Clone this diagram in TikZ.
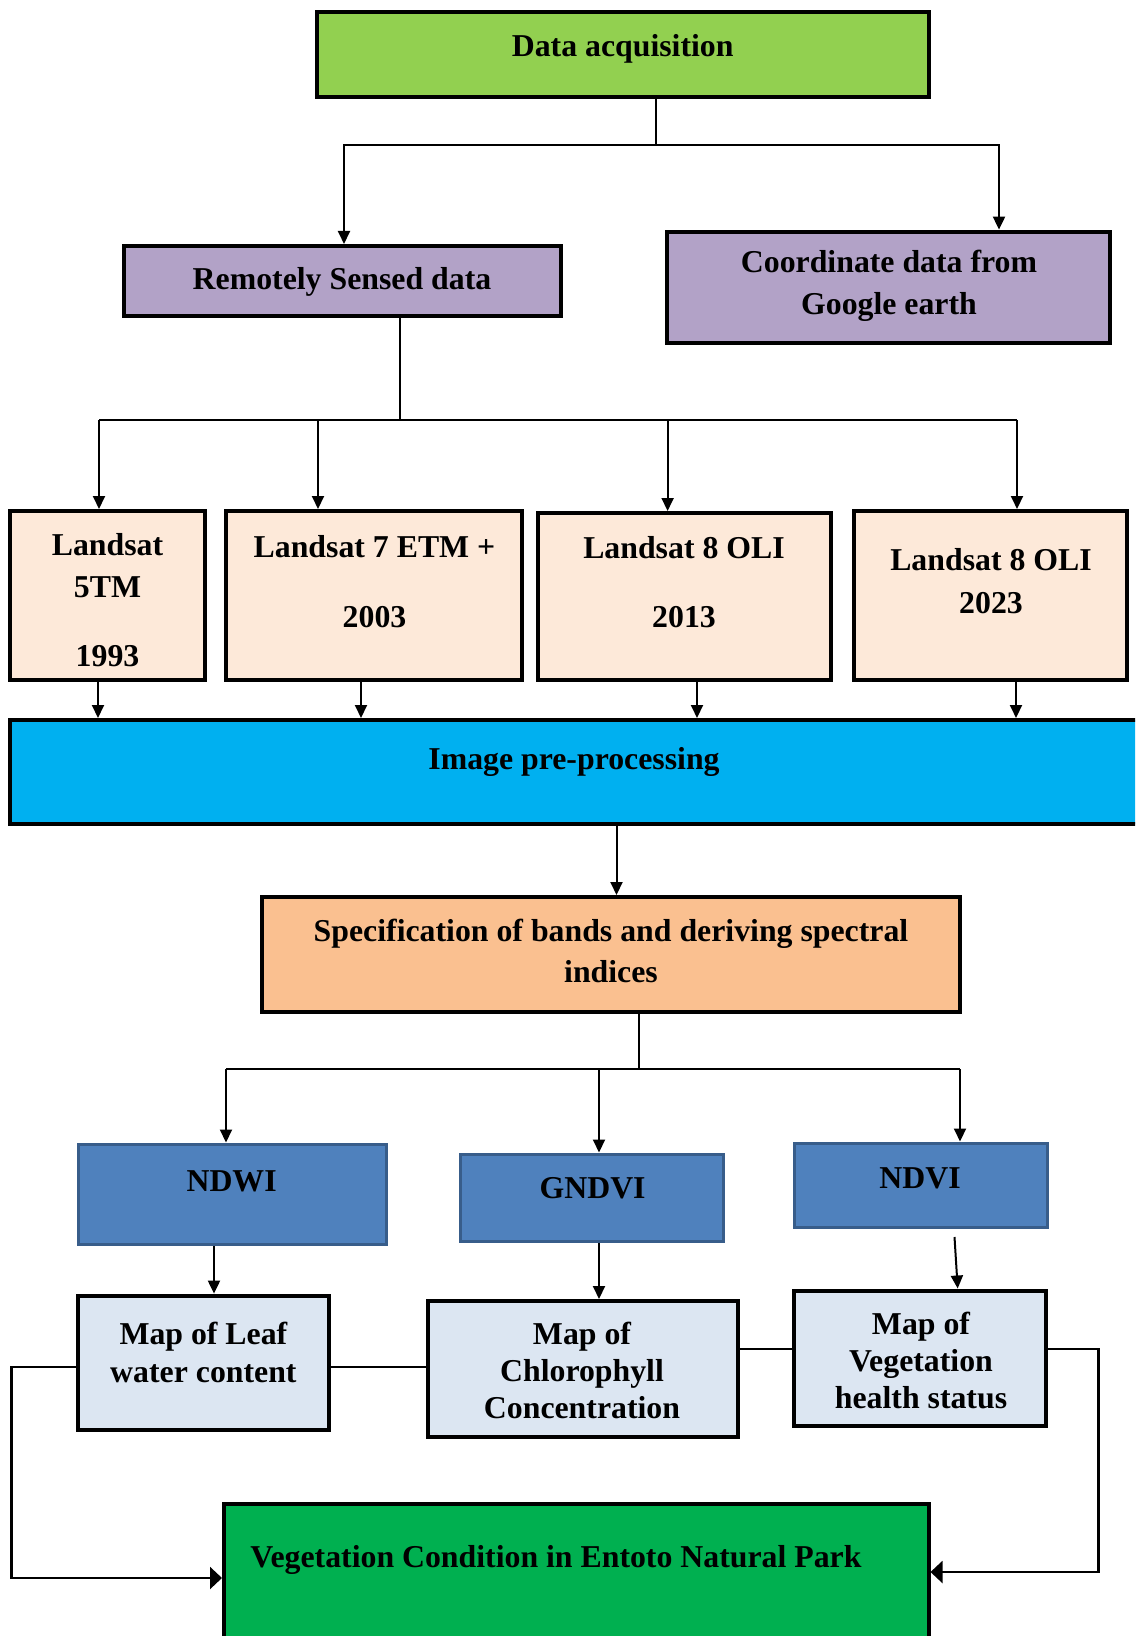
\documentclass[tikz,border=0pt]{standalone}
\usepackage{fontspec}
\setmainfont{Liberation Serif}
\usetikzlibrary{fit,arrows.meta,calc}
\definecolor{cDA}{HTML}{92D050}
\definecolor{cPur}{HTML}{B2A2C7}
\definecolor{cLand}{HTML}{FDE9D9}
\definecolor{cIP}{HTML}{00B0F0}
\definecolor{cSpec}{HTML}{FAC090}
\definecolor{cBlue}{HTML}{4F81BD}
\definecolor{cBlueB}{HTML}{385D8A}
\definecolor{cMap}{HTML}{DCE6F2}
\definecolor{cFin}{HTML}{00B050}
\newcommand\myfnt[1]{\fontsize{15.9}{#1}\selectfont\bfseries}
\begin{document}
\begin{tikzpicture}[x=0.5pt,y=-0.5pt,
  box/.style={draw=black, line width=2pt, inner sep=0pt},
  bluebox/.style={draw=cBlueB, fill=cBlue, line width=1.5pt, inner sep=0pt},
  txt/.style={font=\myfnt{20.7pt}, align=center, inner sep=0pt},
  conn/.style={line width=1pt},
  arr/.style={conn, -{Triangle[length=6.5pt,width=6pt]}},
  bigarr/.style={line width=1.1pt, -{Triangle[length=6pt,width=11pt]}}]
\clip (0,0) rectangle (1135,1636);
\fill[white] (0,0) rectangle (1135,1636);
% boxes
\node[box, fill=cDA, fit={(317,12.5) (928.5,97)}] (da) {};
\node[txt] (daT) at (622.7,49) {Data acquisition};
\node[box, fill=cPur, fit={(124,246) (561,316)}] (rs) {};
\node[txt] (rsT) at (342,281.5) {Remotely Sensed data};
\node[box, fill=cPur, fit={(667,231.6) (1110,343)}] (cd) {};
\node[txt, font=\myfnt{20.85pt}] (cdT) at (889,286) {Coordinate data from\\Google earth};
\node[box, fill=cLand, fit={(10.4,511) (204.5,680)}] (l1) {};
\node[box, fill=cLand, fit={(226,511) (521.6,680)}] (l2) {};
\node[box, fill=cLand, fit={(538,513) (831,680)}] (l3) {};
\node[box, fill=cLand, fit={(854,511) (1126.7,680)}] (l4) {};
\node[txt] (l1T) at (107.5,600) {Landsat\\5TM\\[13.8pt]1993};
\node[txt] (l2T) at (374.5,581.5) {Landsat 7 ETM +\\[14.4pt]2003};
\node[txt] (l3T) at (684,582) {Landsat 8 OLI\\[13.7pt]2013};
\node[txt, font=\myfnt{21.5pt}] (l4T) at (991,581) {Landsat 8 OLI\\2023};
\node[box, fill=cIP, fit={(10.4,720) (1150,824)}] (ip) {};
\node[txt] (ipT) at (574,762) {Image pre-processing};
\node[box, fill=cSpec, fit={(262,897) (960,1012)}] (spec) {};
\node[txt, font=\myfnt{20.75pt}] (specT) at (611,951) {Specification of bands and deriving spectral\\indices};
\node[bluebox, fit={(78,1144) (386,1244.6)}] (ndwi) {};
\node[bluebox, fit={(460,1154) (723,1241.4)}] (gndvi) {};
\node[bluebox, fit={(794,1143) (1047,1227)}] (ndvi) {};
\node[txt] (ndwiT) at (231.6,1181) {NDWI};
\node[txt] (gndviT) at (592.6,1188) {GNDVI};
\node[txt] (ndviT) at (920,1178) {NDVI};
\node[box, fill=cMap, fit={(78,1295.6) (328.6,1430)}] (leaf) {};
\node[box, fill=cMap, fit={(427.7,1301) (737.5,1436.5)}] (chl) {};
\node[box, fill=cMap, fit={(794,1290.5) (1046,1426)}] (veg) {};
\node[txt, font=\myfnt{19pt}] (leafT) at (203.4,1352) {Map of Leaf\\water content};
\node[txt, font=\myfnt{18.5pt}] (chlT) at (582,1370.5) {Map of\\Chlorophyll\\Concentration};
\node[txt, font=\myfnt{18.5pt}] (vegT) at (921,1360) {Map of\\Vegetation\\health status};
\node[box, fill=cFin, fit={(224,1504) (928.5,1650)}] (fin) {};
\node[txt] (finT) at (556,1560) {Vegetation Condition in Entoto Natural Park};
% coordinates
\coordinate (a1) at (656,145);
\coordinate (a1l) at (344,145);
\coordinate (a1r) at (999,145);
\coordinate (a2) at (399.5,420);
\coordinate (a2a) at (99,420);
\coordinate (a2b) at (318,420);
\coordinate (a2c) at (667.6,420);
\coordinate (a2d) at (1017,420);
\coordinate (b1) at (98,0);
\coordinate (b2) at (361,0);
\coordinate (b3) at (697,0);
\coordinate (b4) at (1016,0);
\coordinate (c1) at (616.5,0);
\coordinate (d0) at (638.5,1069);
\coordinate (d1) at (226,1069);
\coordinate (d2) at (599,1069);
\coordinate (d3) at (960,1069);
\coordinate (e1) at (214,0);
\coordinate (e3) at (954.5,1237);
\coordinate (e3b) at (957.7,0);
\coordinate (f1) at (0,1366.6);
\coordinate (f2) at (0,1349);
\coordinate (g1) at (11.5,1366.6);
\coordinate (g2) at (11.5,1578);
\coordinate (h1) at (1098.5,1349);
\coordinate (h2) at (1098.5,1572);
% connectors
\draw[conn] (da.south -| a1) -- (a1);
\draw[arr] (a1) -- (a1l) -- (rs.north -| a1l);
\draw[arr] (a1) -- (a1r) -- (cd.north -| a1r);
\draw[conn] (rs.south -| a2) -- (a2);
\draw[conn] (a2a) -- (a2d);
\draw[arr] (a2a) -- (l1.north -| a2a);
\draw[arr] (a2b) -- (l2.north -| a2b);
\draw[arr] (a2c) -- (l3.north -| a2c);
\draw[arr] (a2d) -- (l4.north -| a2d);
\draw[arr] (l1.south -| b1) -- (ip.north -| b1);
\draw[arr] (l2.south -| b2) -- (ip.north -| b2);
\draw[arr] (l3.south -| b3) -- (ip.north -| b3);
\draw[arr] (l4.south -| b4) -- (ip.north -| b4);
\draw[arr] (ip.south -| c1) -- (spec.north -| c1);
\draw[conn] (spec.south -| d0) -- (d0);
\draw[conn] (d1) -- (d3);
\draw[arr] (d1) -- (ndwi.north -| d1);
\draw[arr] (d2) -- (gndvi.north -| d2);
\draw[arr] (d3) -- (ndvi.north -| d3);
\draw[arr] (ndwi.south -| e1) -- (leaf.north -| e1);
\draw[arr] (gndvi.south -| d2) -- (chl.north -| d2);
\draw[arr] (e3) -- (veg.north -| e3b);
\draw[conn] (leaf.east |- f1) -- (chl.west |- f1);
\draw[conn] (chl.east |- f2) -- (veg.west |- f2);
\draw[bigarr] (leaf.west |- f1) -- (g1) -- (g2) -- (fin.west |- g2);
\draw[bigarr] (veg.east |- f2) -- (h1) -- (h2) -- (fin.east |- h2);
\end{tikzpicture}
\end{document}
